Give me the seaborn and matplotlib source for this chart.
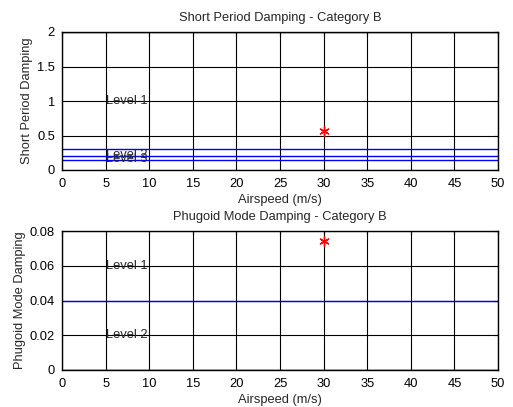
import matplotlib
matplotlib.use("Agg")
import matplotlib.pyplot as plt
import seaborn as sns
import pandas as pd

sns.set_style("white")
plt.rcParams['font.family'] = ['Liberation Sans', 'DejaVu Sans']
plt.rcParams['font.size'] = 9

airspeed_range = [0, 50]
sp_limits = [2.0, 0.3, 0.2, 0.15]
sp_point_x = [30]
sp_point_y = [0.57]
sp_labels = ["Level 1", "Level 2", "Level 3"]
sp_label_y = [1.0, 0.22, 0.16]

ph_limits = [0.04, 0.0]
ph_point_x = [30]
ph_point_y = [0.074]
ph_labels = ["Level 1", "Level 2"]
ph_label_y = [0.06, 0.02]

FS = 9.3

fig = plt.figure(figsize=(5.13, 4.07), dpi=100)
ax1 = fig.add_axes([62/513, 1-170/407, 436/513, 138/407])
ax2 = fig.add_axes([62/513, 1-370/407, 436/513, 139/407])

def style(ax, ylim, yticks, ytl, title, ylabel):
    ax.set_xlim(0, 50)
    ax.set_ylim(*ylim)
    ax.set_xticks(range(0, 51, 5))
    ax.set_yticks(yticks)
    ax.set_yticklabels(ytl)
    ax.grid(True, color='black', linewidth=0.8)
    for s in ax.spines.values():
        s.set_color('black')
        s.set_linewidth(1.0)
    ax.tick_params(direction='in', length=3, colors='black', labelsize=FS,
                   top=True, right=True)
    ax.tick_params(axis='x', pad=6)
    ax.tick_params(axis='y', pad=5)
    ax.set_title(title, fontsize=FS, pad=8)
    ax.set_xlabel("Airspeed (m/s)", fontsize=FS, labelpad=3)
    ax.set_ylabel(ylabel, fontsize=FS, labelpad=3)

for v in sp_limits:
    df = pd.DataFrame({"x": airspeed_range, "y": [v, v]})
    sns.lineplot(data=df, x="x", y="y", ax=ax1, color='blue', linewidth=1.0)
sns.scatterplot(x=sp_point_x, y=sp_point_y, ax=ax1, marker=(6, 2, 0), color='red', s=45,
                edgecolor='red', linewidth=1.0, zorder=5)
for t, y in zip(sp_labels, sp_label_y):
    ax1.text(5, y, t, va='center', ha='left', fontsize=FS)
style(ax1, (0, 2), [0, 0.5, 1, 1.5, 2], ["0", "0.5", "1", "1.5", "2"],
      "Short Period Damping - Category B", "Short Period Damping")

for v in ph_limits:
    df = pd.DataFrame({"x": airspeed_range, "y": [v, v]})
    sns.lineplot(data=df, x="x", y="y", ax=ax2, color='blue', linewidth=1.0)
sns.scatterplot(x=ph_point_x, y=ph_point_y, ax=ax2, marker=(6, 2, 0), color='red', s=45,
                edgecolor='red', linewidth=1.0, zorder=5)
for t, y in zip(ph_labels, ph_label_y):
    ax2.text(5, y, t, va='center', ha='left', fontsize=FS)
style(ax2, (0, 0.08), [0, 0.02, 0.04, 0.06, 0.08], ["0", "0.02", "0.04", "0.06", "0.08"],
      "Phugoid Mode Damping - Category B", "Phugoid Mode Damping")

fig.savefig("out.png", dpi=100)
